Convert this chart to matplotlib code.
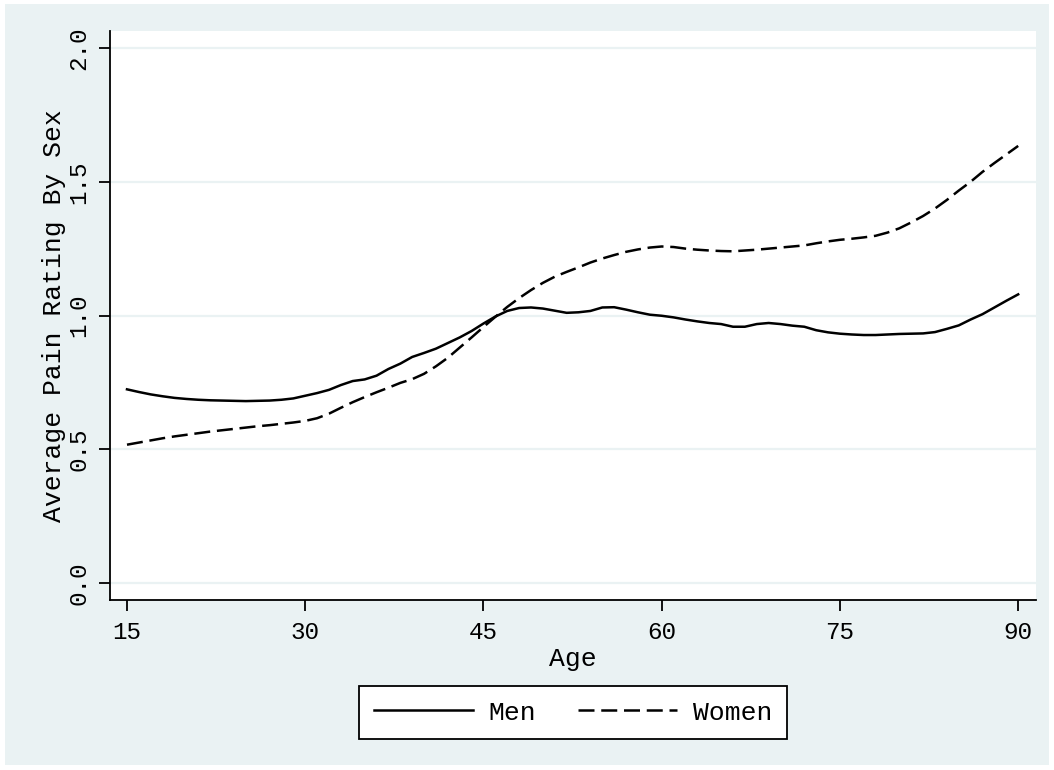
import matplotlib
matplotlib.use("Agg")
import matplotlib.pyplot as plt
from matplotlib.patches import Rectangle

ages = list(range(15, 91))
men = [0.724, 0.714, 0.705, 0.698, 0.692, 0.688, 0.685, 0.683, 0.682, 0.681,
       0.680, 0.681, 0.682, 0.685, 0.690, 0.700, 0.710, 0.722, 0.740, 0.755,
       0.761, 0.775, 0.800, 0.820, 0.845, 0.860, 0.876, 0.897, 0.918, 0.942,
       0.970, 0.996, 1.017, 1.028, 1.030, 1.026, 1.018, 1.010, 1.012, 1.017,
       1.030, 1.031, 1.022, 1.012, 1.003, 0.999, 0.993, 0.985, 0.978, 0.972,
       0.968, 0.958, 0.958, 0.968, 0.972, 0.968, 0.962, 0.958, 0.945, 0.937,
       0.932, 0.929, 0.927, 0.927, 0.929, 0.931, 0.932, 0.933, 0.938, 0.950,
       0.963, 0.985, 1.005, 1.030, 1.055, 1.079]
women = [0.517, 0.525, 0.533, 0.541, 0.548, 0.554, 0.560, 0.566, 0.571, 0.576,
         0.581, 0.586, 0.590, 0.595, 0.600, 0.606, 0.616, 0.633, 0.655, 0.676,
         0.695, 0.713, 0.730, 0.748, 0.762, 0.782, 0.810, 0.842, 0.880, 0.918,
         0.957, 0.995, 1.032, 1.065, 1.095, 1.122, 1.145, 1.163, 1.180, 1.198,
         1.213, 1.226, 1.238, 1.247, 1.254, 1.258, 1.256, 1.250, 1.246, 1.243,
         1.241, 1.240, 1.243, 1.246, 1.250, 1.254, 1.258, 1.262, 1.270, 1.277,
         1.283, 1.287, 1.292, 1.298, 1.310, 1.326, 1.348, 1.372, 1.400, 1.432,
         1.467, 1.500, 1.537, 1.570, 1.602, 1.634]
x_ticks = [15, 30, 45, 60, 75, 90]
y_ticks = [0.0, 0.5, 1.0, 1.5, 2.0]
y_tick_labels = ["0.0", "0.5", "1.0", "1.5", "2.0"]

BG = "#EAF2F3"
FONT = "Liberation Mono"
plt.rcParams['font.family'] = [FONT, 'DejaVu Sans']

W, H = 1054, 770
fig = plt.figure(figsize=(W / 100, H / 100), dpi=100, facecolor="white")
bgrect = Rectangle((5 / W, 5 / H), (W - 10) / W, (H - 9) / H,
                   transform=fig.transFigure, facecolor=BG,
                   edgecolor="none", zorder=-10)
fig.add_artist(bgrect)

L, R, T, B = 110, 1036, 31, 600
ax = fig.add_axes([L / W, 1 - B / H, (R - L) / W, (B - T) / H], zorder=1)
ax.set_facecolor("white")

lw = 1.8
ax.plot(ages, men, color="black", lw=lw, label="Men", zorder=3)
ln, = ax.plot(ages, women, color="black", lw=lw, label="Women", zorder=3)
ln.set_dashes((6.4, 2.7))

ax.set_xlim(13.57, 91.5)
ax.set_ylim(-0.0636, 2.0636)
ax.set_xticks(x_ticks)
ax.set_yticks(y_ticks)
ax.set_yticklabels(y_tick_labels, rotation=90, va="center")
ax.grid(axis="y", color=BG, lw=1.6, zorder=1)
ax.grid(axis="x", visible=False)

for s in ["top", "right"]:
    ax.spines[s].set_visible(False)
for s in ["left", "bottom"]:
    ax.spines[s].set_linewidth(1.3)
    ax.spines[s].set_color("black")

ax.tick_params(axis="both", direction="out", length=8, width=1.3,
               labelsize=17.5, color="black")
ax.tick_params(axis="x", pad=7)
ax.tick_params(axis="y", pad=6)

ax.set_xlabel("Age", fontsize=19, labelpad=2)
ax.set_ylabel("Average Pain Rating By Sex", fontsize=19, labelpad=1)

leg = ax.legend(loc="upper center", bbox_to_anchor=(0.5, -(686 - B) / (B - T)),
                ncol=2, fontsize=19, frameon=True, fancybox=False, shadow=False,
                handlelength=3.75, handletextpad=0.6, columnspacing=1.6,
                borderpad=0.55, borderaxespad=0)
frame = leg.get_frame()
frame.set_edgecolor("black")
frame.set_linewidth(1.3)
frame.set_facecolor("white")
frame.set_alpha(1)

fig.savefig("out.png", dpi=100, facecolor="white")
